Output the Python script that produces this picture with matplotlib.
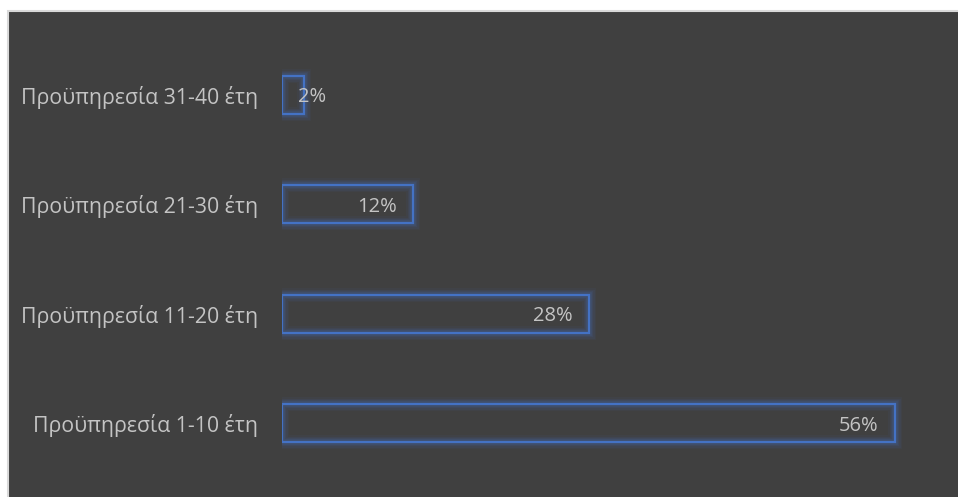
import matplotlib.pyplot as plt
from matplotlib.patches import Rectangle

plt.rcParams['font.family'] = ['Open Sans', 'DejaVu Sans']

categories = ['Προϋπηρεσία 1-10 έτη', 'Προϋπηρεσία 11-20 έτη',
              'Προϋπηρεσία 21-30 έτη', 'Προϋπηρεσία 31-40 έτη']
shares = [56, 28, 12, 2]

BG = '#404040'
EDGE = '#4472c4'
TEXT = '#c4c4c4'

fig = plt.figure(figsize=(9.58, 4.97), dpi=100)
fig.patch.set_facecolor('white')

# chart panel with its light frame (runs off the right and bottom edges)
panel = Rectangle((8 / 958, -0.05), 1.05, 1.05 - 11 / 497,
                  transform=fig.transFigure, facecolor=BG,
                  edgecolor='#d9d9d9', linewidth=1.5, zorder=-5)
fig.patches.append(panel)

ax = fig.add_axes([282 / 958, 19 / 497, 657 / 958, 438 / 497])
ax.set_facecolor('none')
ax.set_xlim(0, 60)
ax.set_ylim(-0.5, len(categories) - 0.5)

y = range(len(categories))
h = 0.35
# soft glow under the outline
for lw, a in [(10, 0.06), (8, 0.08), (6, 0.11), (4, 0.16)]:
    ax.barh(y, shares, height=h, color='none', edgecolor=EDGE,
            linewidth=lw, alpha=a)
ax.barh(y, shares, height=h, color='none', edgecolor=EDGE, linewidth=1.6)

for yi, v in zip(y, shares):
    if v >= 5:
        ax.text(v - 1.5, yi, f'{v}%', ha='right', va='center_baseline',
                color=TEXT, fontsize=14.5)
    else:
        ax.text(1.5, yi, f'{v}%', ha='left', va='center_baseline',
                color=TEXT, fontsize=14.5)

ax.set_yticks(list(y))
ax.set_yticklabels(categories, color=TEXT, fontsize=15.3)
ax.tick_params(axis='y', length=0, pad=17)
ax.set_xticks([])
for spine in ax.spines.values():
    spine.set_visible(False)

fig.savefig('out.png', dpi=100, facecolor=fig.get_facecolor())
